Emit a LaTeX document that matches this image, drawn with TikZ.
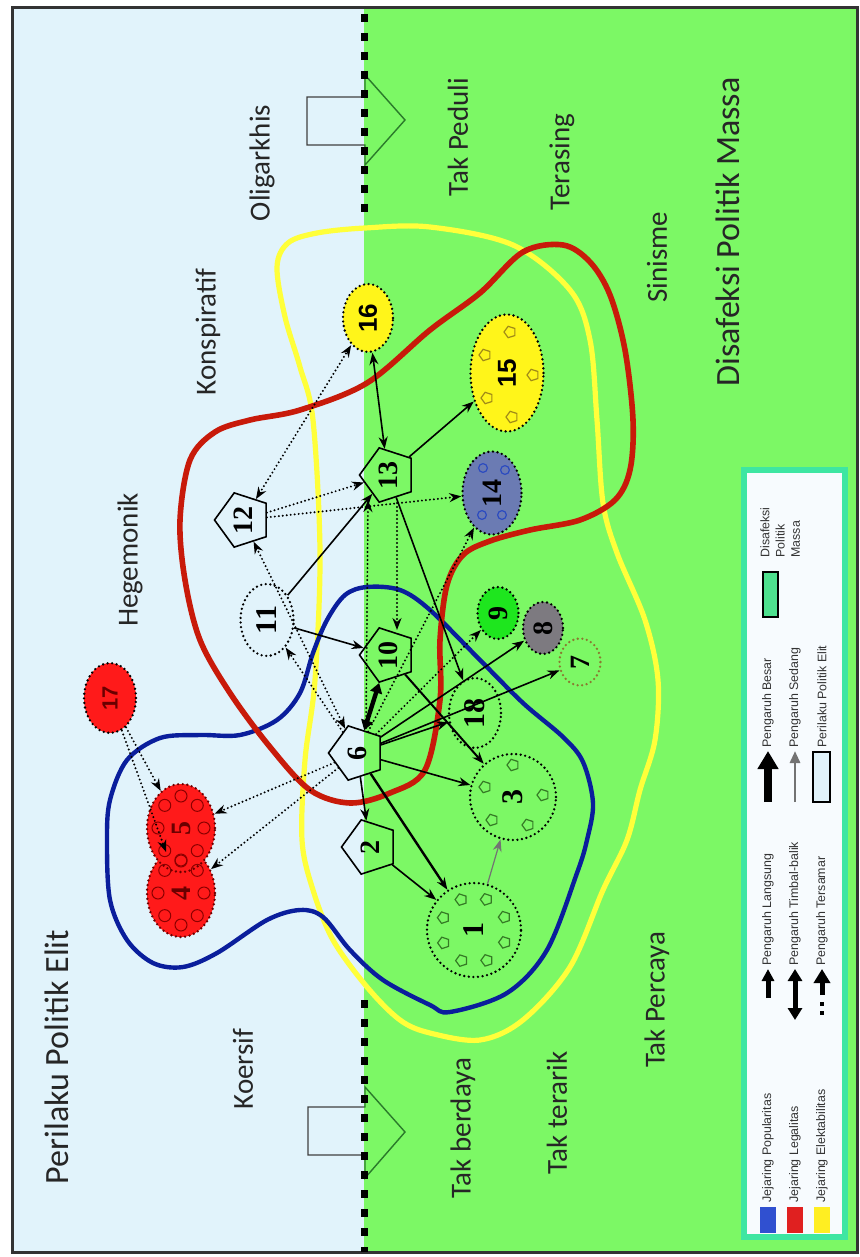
\documentclass[tikz,border=0pt]{standalone}
\usepackage{fontspec}
\setmainfont{Carlito}
\newfontfamily\serifnum{Liberation Serif}
\newfontfamily\sansnum{Liberation Sans}
\newfontfamily\legendfont{Liberation Sans}
\usetikzlibrary{shapes.geometric,arrows.meta}
\pgfdeclarelayer{bg}
\pgfsetlayers{bg,main}

\definecolor{elitbg}{HTML}{E1F3FB}
\definecolor{massbg}{HTML}{7CF865}
\definecolor{popblue}{HTML}{0A1E9C}
\definecolor{legred}{HTML}{C81A0A}
\definecolor{elekyellow}{HTML}{FFFF3A}
\definecolor{nodered}{HTML}{FF1A1A}
\definecolor{darkred}{HTML}{6A0000}
\definecolor{nodeyellow}{HTML}{FFF51A}
\definecolor{nodeslate}{HTML}{6B7BB3}
\definecolor{seedblue}{HTML}{2C4BC0}
\definecolor{nodegreen}{HTML}{1EE61E}
\definecolor{nodegray}{HTML}{7D7A80}
\definecolor{seedgreen}{HTML}{357A25}
\definecolor{seedyellow}{HTML}{A08A18}
\definecolor{ringolive}{HTML}{8A7A30}
\definecolor{legendteal}{HTML}{3EE6A2}
\definecolor{legendfill}{HTML}{F7FBFE}
\definecolor{swatchgreen}{HTML}{4EE08E}
\definecolor{swatchblue}{HTML}{3050D0}
\definecolor{swatchred}{HTML}{E02020}
\definecolor{swatchyellow}{HTML}{FFEE22}
\definecolor{arrowgreen}{HTML}{2A7A2A}

\begin{document}
\begin{tikzpicture}[x=0.5pt,y=-0.5pt,
  >={Stealth[length=6pt,width=4.5pt]},
  pent/.style={regular polygon, regular polygon sides=5, shape border rotate=90,
    draw=black, line width=0.8pt, minimum size=28.5pt, inner sep=0pt},
  dotborder/.style={draw=black, line width=1.3pt, line cap=round,
    dash pattern=on 0pt off 2.3pt},
  oval/.style={ellipse, inner sep=0pt, dotborder},
  ring/.style={circle, inner sep=0pt, dotborder},
  seed/.style={regular polygon, regular polygon sides=5, shape border rotate=90,
    draw=seedgreen, line width=0.6pt, minimum size=6pt, inner sep=0pt},
  num/.style={rotate=90, inner sep=0pt, font=\serifnum\bfseries\fontsize{14}{14}\selectfont},
  sansnumber/.style={num, font=\sansnum\bfseries\fontsize{13}{13}\selectfont},
  direct/.style={draw, line width=0.8pt, ->},
  medium/.style={draw=black!55, line width=0.6pt, ->},
  hidden/.style={draw, line width=1.1pt, line cap=round,
    dash pattern=on 0pt off 2pt, ->},
  mutual/.style={draw, line width=2.2pt,
    {Triangle[length=5pt,width=6pt]}-{Triangle[length=5pt,width=6pt]}},
  zone/.style={font=\fontsize{14.5}{14.5}\selectfont, rotate=90, text=black!85},
  title/.style={font=\fontsize{17}{17}\selectfont, rotate=90, text=black!85},
  legtext/.style={font=\legendfont\fontsize{6.2}{7.6}\selectfont, rotate=90,
    anchor=west, inner sep=0pt, text=black!80}
]
\useasboundingbox (0,0) rectangle (860,1257);

% ---------- background layer: regions, block arrows, network outlines ----------
\begin{pgfonlayer}{bg}
  \fill[white] (0,0) rectangle (860,1257);
  \fill[elitbg] (12,8) rectangle (364,1252);
  \fill[massbg] (364,8) rectangle (857,1252);
  \draw[black!80, line width=1.5pt] (12,8) rectangle (857,1252);

  % block arrows crossing from the elite side to the mass side
  \begin{scope}
    \clip (0,0) rectangle (364,1257);
    \draw[black!75, line width=0.7pt]
      (307,97) -- (365,97) -- (365,75) -- (405,120) -- (365,165) -- (365,145) -- (307,145) -- cycle;
    \draw[black!75, line width=0.7pt]
      (308,1107) -- (365,1107) -- (365,1087) -- (405,1132) -- (365,1178) -- (365,1155) -- (308,1155) -- cycle;
  \end{scope}
  \begin{scope}
    \clip (364,0) rectangle (860,1257);
    \draw[arrowgreen, line width=0.7pt]
      (307,97) -- (365,97) -- (365,75) -- (405,120) -- (365,165) -- (365,145) -- (307,145) -- cycle;
    \draw[arrowgreen, line width=0.7pt]
      (308,1107) -- (365,1107) -- (365,1087) -- (405,1132) -- (365,1178) -- (365,1155) -- (308,1155) -- cycle;
  \end{scope}

  % boundary between the two sides
  \draw[black, line width=3.5pt, dash pattern=on 4pt off 5.5pt] (364,14) -- (364,222);
  \draw[black, line width=3.5pt, dash pattern=on 4pt off 5.5pt] (364,1000) -- (364,1252);

  % Jejaring Elektabilitas
  \draw[elekyellow, line width=2.6pt] plot[smooth cycle, tension=0.55] coordinates {
    (317,233) (365,228) (430,227) (513,245) (570,290) (590,340) (597,420)
    (603,503) (617,553) (645,620) (658,680) (655,740) (640,790) (627,840)
    (603,890) (570,967) (523,1020) (480,1040) (430,1033) (400,1020) (367,987)
    (333,940) (313,890) (302,840) (305,760) (315,680) (320,553) (313,420)
    (300,367) (285,317) (277,267) (288,243)};
  % Jejaring Popularitas
  \draw[popblue, line width=2.2pt] plot[smooth cycle, tension=0.55] coordinates {
    (327,620) (345,595) (367,587) (400,590) (430,610) (480,660) (523,703)
    (563,737) (583,762) (593,803) (587,840) (577,873) (547,950) (507,993)
    (450,1012) (430,1005) (383,980) (350,950) (323,917) (300,910) (267,920)
    (217,953) (183,967) (153,963) (127,940) (110,900) (107,840) (110,800)
    (127,760) (160,738) (200,735) (240,735) (277,720) (300,693) (313,653)};
  % Jejaring Legalitas
  \draw[legred, line width=2.8pt] plot[smooth cycle, tension=0.55] coordinates {
    (250,420) (300,410) (367,383) (430,330) (480,293) (523,252) (563,245)
    (590,262) (610,295) (625,350) (633,420) (630,470) (615,500) (580,520)
    (530,530) (490,541) (463,555) (447,585) (440,640) (440,700) (425,770)
    (390,793) (350,803) (310,790) (270,747) (230,693) (200,640) (185,580)
    (180,520) (190,460) (215,432)};
\end{pgfonlayer}

% ---------- actors ----------
\node[pent] (n6)  at (357,753) {};
\node[pent] (n2)  at (370,847) {};
\node[pent] (n10) at (388,655) {};
\node[pent] (n12) at (243,520) {};
\node[pent] (n13) at (388,475) {};
\node[oval, fill=nodered, minimum width=26pt, minimum height=35pt] (n17) at (110,698) {};
\node[oval, fill=nodered, minimum width=34pt, minimum height=44pt, draw=darkred] (n4) at (181,893) {};
\node[oval, fill=nodered, minimum width=34pt, minimum height=44pt, draw=darkred] (n5) at (181,828) {};
\node[oval, fill=nodeyellow, minimum width=25pt, minimum height=34pt] (n16) at (368,318) {};
\node[oval, fill=nodeyellow, minimum width=36.5pt, minimum height=58.5pt] (n15) at (507,373) {};
\node[oval, fill=nodeslate, minimum width=29.5pt, minimum height=41.5pt] (n14) at (492,493) {};
\node[oval, fill=nodegreen, minimum width=20.5pt, minimum height=26pt] (n9) at (498,613) {};
\node[oval, fill=nodegray, minimum width=20pt, minimum height=26pt] (n8) at (543,628) {};
\node[oval, draw=ringolive, minimum width=20.5pt, minimum height=23.5pt] (n7) at (580,662) {};
\node[oval, minimum width=26pt, minimum height=35pt] (n18) at (475,713) {};
\node[oval, minimum width=26.5pt, minimum height=36pt] (n11) at (267,620) {};
\node[ring, minimum size=43pt] (n3) at (513,797) {};
\node[ring, minimum size=47pt] (n1) at (474,930) {};

% small members inside the groups
\foreach \a in {0,45,...,315} {
  \draw[red!55!black, line width=0.5pt] ({181+23*cos(\a)},{893+32*sin(\a)}) circle[radius=3pt];
  \draw[red!55!black, line width=0.5pt] ({181+23*cos(\a)},{828+32*sin(\a)}) circle[radius=3pt];
}
\foreach \a in {0,45,...,315}
  \node[seed] at ({474+33*cos(\a+22)},{930+33*sin(\a+22)}) {};
\foreach \p in {(513,765),(485,787),(543,795),(492,820),(528,825)}
  \node[seed] at \p {};
\foreach \p in {(510,332),(485,355),(533,375),(487,398),(512,417)}
  \node[seed, draw=seedyellow] at \p {};
\foreach \p in {(483,468),(505,470),(482,515),(502,515)}
  \draw[seedblue, line width=0.6pt] \p circle[radius=2.2pt];

% labels of the actors, reading upwards
\node[num] (l6) at (n6) {6};
\node[num] (l2) at (n2) {2};
\node[num] (l10) at (n10) {10};
\node[num] (l12) at (n12) {12};
\node[num] (l13) at (n13) {13};
\node[sansnumber, font=\sansnum\bfseries\fontsize{11}{11}\selectfont, text=darkred] (l17) at (n17) {17};
\node[num, text=darkred] (l4) at (n4) {4};
\node[num, text=darkred] (l5) at (n5) {5};
\node[sansnumber] (l16) at (n16) {16};
\node[sansnumber] (l15) at (n15) {15};
\node[num] (l14) at (n14) {14};
\node[num] (l9) at (n9) {9};
\node[num] (l8) at (n8) {8};
\node[num] (l7) at (n7) {7};
\node[num, font=\serifnum\bfseries\fontsize{15}{15}\selectfont] (l18) at (n18) {18};
\node[num, font=\serifnum\bfseries\fontsize{15}{15}\selectfont] (l11) at (n11) {11};
\node[num, font=\serifnum\bfseries\fontsize{15}{15}\selectfont] (l3) at (n3) {3};
\node[num, font=\serifnum\bfseries\fontsize{15}{15}\selectfont] (l1) at (n1) {1};

% ---------- influences ----------
\draw[direct] (n6) -- (n2);
\draw[direct] (n2) -- (n1);
\draw[direct, line width=1.2pt] (n6) -- (n1);
\draw[direct] (n6) -- (n3);
\draw[direct] (n6) -- (n18);
\draw[direct] (n6) -- (n8);
\draw[direct] (n6) -- (n7);
\draw[direct, line width=1pt] (n10) -- (n3);
\draw[direct] (n13) -- (n18);
\draw[direct] (n11) -- (n13);
\draw[direct] (n11) -- (n10);
\draw[direct, <->] (n16) -- (n13);
\draw[direct] (n13) -- (n15);
\draw[medium] (n1) -- (n3);
\draw[mutual] (n6) -- (n10);

\draw[hidden] (n17) -- (n5);
\draw[hidden] (n17) -- (n4);
\draw[hidden] (n6) -- (n5);
\draw[hidden] (n6) -- (n4);
\draw[hidden] (n6) -- (n11);
\draw[hidden, <->] (n12) -- (n6);
\draw[hidden, <->] (n12) -- (n16);
\draw[hidden] (n12) -- (n13);
\draw[hidden] (n12) -- (n14);
\draw[hidden] ([xshift=4.5pt,yshift=12.5pt]n6.center) -- ([xshift=-10pt,yshift=-12.5pt]n13.center);
\draw[hidden] ([xshift=4.5pt,yshift=-14pt]n13.center) -- ([xshift=4.5pt,yshift=12.5pt]n10.center);
\draw[hidden] (n6) -- (n14);
\draw[hidden] (n6) -- (n9);

% ---------- region labels ----------
\node[title] (ttlelit) at (57,1057) {Perilaku Politik Elit};
\node[title] (ttlmass) at (728,232) {Disafeksi Politik Massa};
\node[zone] (zkoer) at (243,1069) {Koersif};
\node[zone] (zhege) at (130,560) {Hegemonik};
\node[zone] (zkons) at (208,332) {Konspiratif};
\node[zone] (zolig) at (262,163) {Oligarkhis};
\node[zone] (zpedu) at (458,137) {Tak Peduli};
\node[zone] (zteras) at (562,162) {Terasing};
\node[zone] (zsini) at (657,257) {Sinisme};
\node[zone] (zberd) at (463,1128) {Tak berdaya};
\node[zone] (zterar) at (557,1113) {Tak terarik};
\node[zone] (zperc) at (657,1000) {Tak Percaya};

% ---------- legend ----------
\draw[legendteal, line width=3pt, fill=legendfill] (744,470) rectangle (845,1237);

\node[legtext, align=left, anchor=north west] (lgmass) at (760,558) {Disafeksi\\Politik\\Massa};
\draw[black, line width=0.8pt, fill=swatchgreen] (763,572) rectangle (778,617);

\draw[black, line width=4pt, -{Triangle[length=9pt,width=10pt]}] (768,802) -- (768,751);
\node[legtext] (lgbesar) at (768,748) {Pengaruh Besar};
\draw[black!55, line width=1.4pt, -{Triangle[length=6pt,width=5pt]}] (795,802) -- (795,751);
\node[legtext] (lgsedang) at (795,748) {Pengaruh Sedang};
\draw[black, line width=0.8pt, fill=elitbg] (813,752) rectangle (830,802);
\node[legtext] (lgelit) at (822,748) {Perilaku Politik Elit};

\draw[black, line width=2.5pt, -{Triangle[length=6pt,width=6pt]}] (768,998) -- (768,969);
\node[legtext] (lglangs) at (768,966) {Pengaruh Langsung};
\draw[black, line width=2.5pt, {Triangle[length=6pt,width=7pt]}-{Triangle[length=6pt,width=7pt]}] (795,1020) -- (795,969);
\node[legtext] (lgtimbal) at (795,966) {Pengaruh Timbal-balik};
\draw[black, line width=2.5pt, -{Triangle[length=7pt,width=8pt]}] (822,995) -- (822,969);
\draw[black, line width=2.2pt] (822,1002) -- (822,1006) (822,1011) -- (822,1015);
\node[legtext] (lgsamar) at (822,966) {Pengaruh Tersamar};

\fill[swatchblue] (760,1207) rectangle (776,1233);
\node[legtext] (lgpop) at (768,1203) {Jejaring Popularitas};
\fill[swatchred] (787,1207) rectangle (803,1233);
\node[legtext] (lgleg) at (795,1203) {Jejaring Legalitas};
\fill[swatchyellow] (814,1207) rectangle (830,1233);
\node[legtext] (lgelek) at (822,1203) {Jejaring Elektabilitas};
\end{tikzpicture}
\end{document}
